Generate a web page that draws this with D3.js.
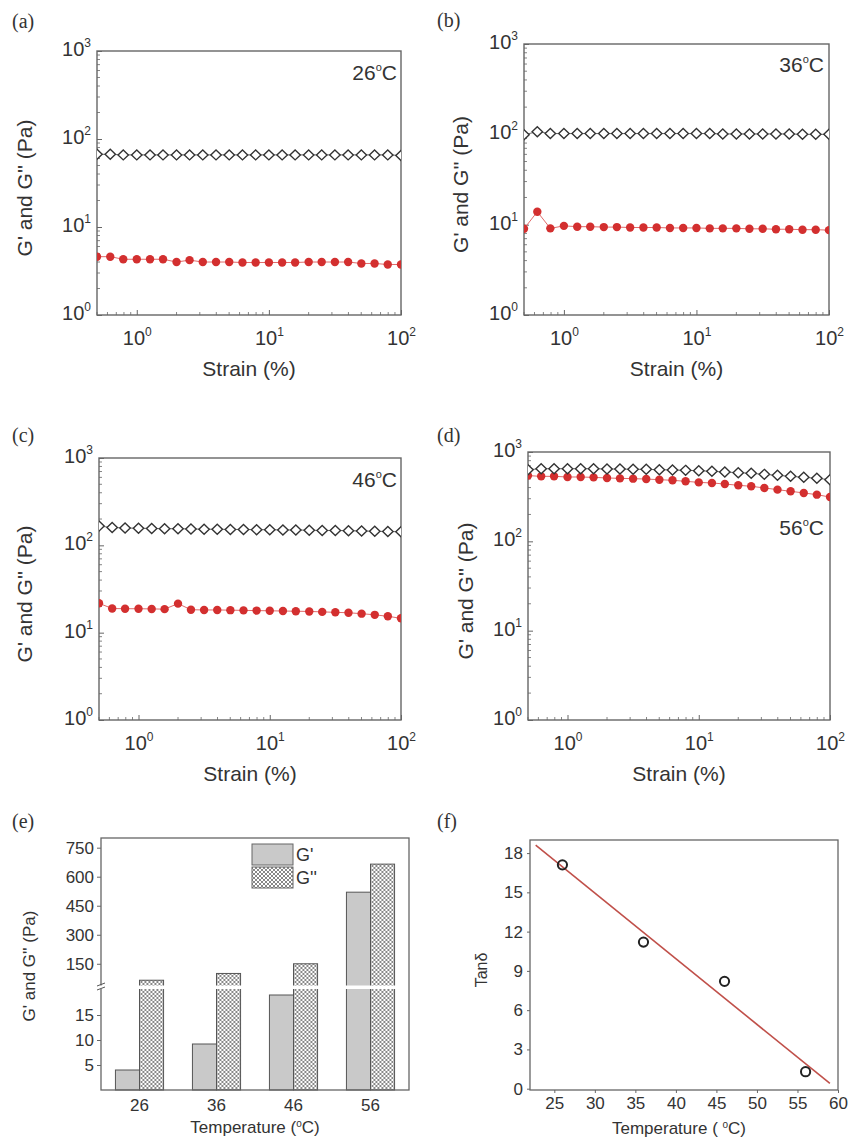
<!DOCTYPE html>
<html>
<head>
<meta charset="utf-8">
<script src="https://cdn.jsdelivr.net/npm/d3@7"></script>
<style>
  body { margin: 0; background: #fff; }
  svg { display: block; }
  text { fill: #333; }
</style>
</head>
<body>
<svg id="chart" width="848" height="1142"></svg>
<script>
// strain sweep points (%)
const strain = [0.5, 0.63, 0.79, 1.0, 1.26, 1.58, 2.0, 2.51, 3.16, 3.98, 5.01, 6.31, 7.94, 10, 12.6, 15.8, 20, 25.1, 31.6, 39.8, 50.1, 63.1, 79.4, 100]

// G'' (open diamonds) and G' (red dots), Pa
const gDbl26 = [67, 67, 66, 66, 66, 66, 66, 66, 66, 66, 66, 66, 66, 66, 66, 66, 66, 66, 66, 66, 66, 66, 66, 65]
const gPrm26 = [4.6, 4.6, 4.3, 4.3, 4.3, 4.3, 4.0, 4.2, 4.0, 4.0, 4.0, 3.95, 3.95, 3.95, 3.95, 3.95, 4.0, 4.0, 4.0, 4.0, 3.85, 3.85, 3.75, 3.75]
const gDbl36 = [99, 107, 102, 102, 102, 102, 102, 102, 102, 102, 102, 102, 102, 102, 102, 101, 101, 101, 101, 101, 101, 100, 100, 100]
const gPrm36 = [9.0, 13.9, 9.1, 9.7, 9.5, 9.5, 9.4, 9.4, 9.3, 9.3, 9.3, 9.2, 9.2, 9.2, 9.1, 9.1, 9.1, 9.0, 9.0, 8.9, 8.9, 8.8, 8.8, 8.7]
const gDbl46 = [166, 160, 158, 157, 156, 155, 155, 154, 153, 153, 152, 152, 151, 151, 150, 150, 149, 148, 148, 147, 146, 145, 144, 143]
const gPrm46 = [21.7, 18.9, 18.8, 18.8, 18.7, 18.6, 21.5, 18.3, 18.2, 18.2, 18.1, 18.0, 17.9, 17.8, 17.7, 17.6, 17.5, 17.3, 17.1, 16.9, 16.5, 16.0, 15.4, 14.6]
const gDbl56 = [634, 650, 650, 650, 650, 650, 645, 645, 640, 640, 634, 629, 623, 618, 608, 597, 587, 577, 562, 548, 534, 521, 508, 490]
const gPrm56 = [544, 534, 534, 525, 525, 520, 512, 507, 503, 498, 490, 482, 470, 457, 450, 438, 424, 413, 396, 379, 363, 348, 333, 313]

const logTicks = [1, 10, 100, 1000]
const strainTicks = [1, 10, 100]

// panel (e)
const temps = ['26', '36', '46', '56']
const gPrmBar = [4, 9.2, 19, 520]
const gDblBar = [65, 100, 150, 665]
const lowTicks = [5, 10, 15]
const highTicks = [150, 300, 450, 600, 750]

// panel (f)
const tempC = [26, 36, 46, 56]
const tanDelta = [17.1, 11.2, 8.2, 1.3]
const fitT = [22.7, 59.0]
const fitTan = [18.6, 0.4]
const tanXTicks = [25, 30, 35, 40, 45, 50, 55, 60]
const tanYTicks = [0, 3, 6, 9, 12, 15, 18]

const svg = d3.select('#chart').attr('font-family', "'Liberation Sans', Arial, sans-serif")
const frameColor = '#666'

const defs = svg.append('defs')
const pat = defs.append('pattern').attr('id', 'hatch')
  .attr('width', 4).attr('height', 4).attr('patternUnits', 'userSpaceOnUse')
pat.append('rect').attr('width', 4).attr('height', 4).attr('fill', '#fff')
pat.append('path').attr('d', 'M0,0L4,4M4,0L0,4M-1,3L1,5M3,-1L5,1').attr('stroke', '#7a7a7a').attr('stroke-width', 0.9)

function panelLabel(txt, x, y) {
  svg.append('text').attr('x', x).attr('y', y)
    .attr('font-family', "'Liberation Serif', 'DejaVu Serif', serif")
    .attr('font-size', 20).text(txt)
}

function supLabel(sel, base, exp, baseSize, expSize) {
  sel.text('')
  sel.append('tspan').attr('font-size', baseSize).text(base)
  sel.append('tspan').attr('font-size', expSize).attr('dy', -baseSize * 0.45).text(exp)
}

function logPanel(p) {
  const x = d3.scaleLog().domain([0.5, 100]).range([p.left, p.right])
  const y = d3.scaleLog().domain([1, 1000]).range([p.bottom, p.top])
  const g = svg.append('g')
  const clipId = 'clip' + p.temp
  defs.append('clipPath').attr('id', clipId).append('rect')
    .attr('x', p.left).attr('y', p.top).attr('width', p.right - p.left).attr('height', p.bottom - p.top)

  // minor ticks, inward
  const minorX = x.ticks().filter(d => !strainTicks.includes(d))
  const minorY = y.ticks().filter(d => !logTicks.includes(d))
  g.selectAll('.mx').data(minorX).join('line')
    .attr('x1', d => x(d)).attr('x2', d => x(d))
    .attr('y1', p.bottom).attr('y2', p.bottom - 3)
    .attr('stroke', frameColor).attr('stroke-width', 0.8)
  g.selectAll('.my').data(minorY).join('line')
    .attr('x1', p.left).attr('x2', p.left + 3)
    .attr('y1', d => y(d)).attr('y2', d => y(d))
    .attr('stroke', frameColor).attr('stroke-width', 0.8)

  const ax = g.append('g').attr('transform', `translate(0,${p.bottom})`)
    .call(d3.axisBottom(x).tickValues(strainTicks).tickSize(-5).tickSizeOuter(0))
  ax.select('.domain').remove()
  ax.selectAll('line').attr('stroke', frameColor)
  ax.selectAll('text').attr('y', 30).attr('dy', null)
    .each(function (d) { supLabel(d3.select(this), '10', Math.round(Math.log10(d)), 20, 12) })

  const ay = g.append('g').attr('transform', `translate(${p.left},0)`)
    .call(d3.axisLeft(y).tickValues(logTicks).tickSize(-5).tickSizeOuter(0))
  ay.select('.domain').remove()
  ay.selectAll('line').attr('stroke', frameColor)
  ay.selectAll('text').attr('x', -6).attr('dy', '0.45em')
    .each(function (d) { supLabel(d3.select(this), '10', Math.round(Math.log10(d)), 20, 12) })

  g.append('rect').attr('x', p.left).attr('y', p.top)
    .attr('width', p.right - p.left).attr('height', p.bottom - p.top)
    .attr('fill', 'none').attr('stroke', frameColor).attr('stroke-width', 1.4)

  const pts = g.append('g').attr('clip-path', `url(#${clipId})`)
  const line = d3.line().x((d, i) => x(strain[i])).y(d => y(d))

  pts.append('path').attr('d', line(p.gp)).attr('fill', 'none')
    .attr('stroke', '#e06a6a').attr('stroke-width', 1)
  pts.selectAll('.red').data(p.gp).join('circle')
    .attr('cx', (d, i) => x(strain[i])).attr('cy', d => y(d)).attr('r', 4.2)
    .attr('fill', '#d32f2f')

  pts.append('path').attr('d', line(p.gd)).attr('fill', 'none')
    .attr('stroke', '#444').attr('stroke-width', 0.8)
  pts.selectAll('.dia').data(p.gd).join('path')
    .attr('transform', (d, i) => `translate(${x(strain[i])},${y(d)})`)
    .attr('d', 'M0,-5L5.2,0L0,5L-5.2,0Z')
    .attr('fill', '#fff').attr('stroke', '#333').attr('stroke-width', 1.4)

  // temperature tag
  const t = g.append('text').attr('x', p.tempX).attr('y', p.tempY)
    .attr('text-anchor', 'end').attr('font-size', 21)
  t.append('tspan').text(p.temp)
  t.append('tspan').attr('dy', -9).attr('font-size', 11).text('o')
  t.append('tspan').attr('dy', 9).text('C')

  g.append('text').attr('x', (p.left + p.right) / 2).attr('y', p.bottom + 61)
    .attr('text-anchor', 'middle').attr('font-size', 21).text('Strain (%)')
  g.append('text')
    .attr('transform', `translate(${p.titleX + 7},${(p.top + p.bottom) / 2 + 5}) rotate(-90)`)
    .attr('text-anchor', 'middle').attr('font-size', 21).text("G' and G'' (Pa)")

  panelLabel(p.label, p.labelX, p.labelY)
}

logPanel({ left: 97, right: 401, top: 51, bottom: 315, titleX: 25, label: '(a)', labelX: 12, labelY: 28,
  temp: '26', tempX: 397, tempY: 80, gd: gDbl26, gp: gPrm26 })
logPanel({ left: 524, right: 829, top: 44, bottom: 315, titleX: 461, label: '(b)', labelX: 437, labelY: 27,
  temp: '36', tempX: 824, tempY: 72, gd: gDbl36, gp: gPrm36 })
logPanel({ left: 99, right: 401, top: 458, bottom: 720, titleX: 25, label: '(c)', labelX: 12, labelY: 442,
  temp: '46', tempX: 397, tempY: 487, gd: gDbl46, gp: gPrm46 })
logPanel({ left: 528, right: 830, top: 452, bottom: 720, titleX: 466, label: '(d)', labelX: 437, labelY: 442,
  temp: '56', tempX: 824, tempY: 535, gd: gDbl56, gp: gPrm56 })

// ---- (e) bar chart with broken axis ----
{
  const L = 101, R = 409, T = 838, B = 1090
  const x0 = d3.scaleBand().domain(temps).range([L, R]).paddingInner(0.375).paddingOuter(0.1875)
  const x1 = d3.scaleBand().domain(['gp', 'gd']).range([0, x0.bandwidth()])
  const yLow = d3.scaleLinear().domain([0, 20]).range([B, 990])
  const yHigh = d3.scaleLinear().domain([30, 800]).range([987, T])
  const yv = v => v <= 20 ? yLow(v) : yHigh(v)
  const g = svg.append('g')

  const rows = temps.map((t, i) => ({ t, gp: gPrmBar[i], gd: gDblBar[i] }))
  const grp = g.selectAll('.grp').data(rows).join('g')
    .attr('transform', d => `translate(${x0(d.t)},0)`)
  grp.append('rect').attr('x', x1('gp')).attr('width', x1.bandwidth())
    .attr('y', d => yv(d.gp)).attr('height', d => B - yv(d.gp))
    .attr('fill', '#c9c9c9').attr('stroke', '#555').attr('stroke-width', 1)
  grp.append('rect').attr('x', x1('gd')).attr('width', x1.bandwidth())
    .attr('y', d => yv(d.gd)).attr('height', d => B - yv(d.gd))
    .attr('fill', 'url(#hatch)').attr('stroke', '#555').attr('stroke-width', 1)

  // break band
  g.append('rect').attr('x', L + 1).attr('y', 985.5).attr('width', R - L - 2).attr('height', 3.5).attr('fill', '#fff')

  g.append('rect').attr('x', L).attr('y', T).attr('width', R - L).attr('height', B - T)
    .attr('fill', 'none').attr('stroke', frameColor).attr('stroke-width', 1.3)

  const styleAxis = a => {
    a.select('.domain').remove()
    a.selectAll('line').attr('stroke', frameColor)
    a.selectAll('text').attr('font-size', 17).attr('font-family', null)
  }
  g.append('g').attr('transform', `translate(${L},0)`)
    .call(d3.axisLeft(yLow).tickValues(lowTicks).tickSize(4).tickPadding(3)).call(styleAxis)
  g.append('g').attr('transform', `translate(${L},0)`)
    .call(d3.axisLeft(yHigh).tickValues(highTicks).tickSize(4).tickPadding(3)).call(styleAxis)
  const ax = g.append('g').attr('transform', `translate(0,${B})`)
    .call(d3.axisBottom(x0).tickSize(0).tickPadding(5))
  styleAxis(ax)
  ax.selectAll('text').attr('dy', '0.95em')

  // axis break mark
  g.append('rect').attr('x', L - 4).attr('y', 985.5).attr('width', 8).attr('height', 3.5).attr('fill', '#fff')
  g.append('path').attr('d', `M${L - 4},986L${L + 4},983M${L - 4},990L${L + 4},987`)
    .attr('stroke', '#555').attr('stroke-width', 1).attr('fill', 'none')

  // legend
  const lg = g.append('g')
  const legItems = [{ k: 'gp', name: "G'", fill: '#c9c9c9' }, { k: 'gd', name: "G''", fill: 'url(#hatch)' }]
  lg.selectAll('rect').data(legItems).join('rect')
    .attr('x', 252).attr('y', (d, i) => 844 + i * 23).attr('width', 41).attr('height', 21)
    .attr('fill', d => d.fill).attr('stroke', '#666').attr('stroke-width', 1)
  lg.selectAll('text').data(legItems).join('text')
    .attr('x', 296).attr('y', (d, i) => 861 + i * 23).attr('font-size', 18).text(d => d.name)

  const tx = g.append('text').attr('x', (L + R) / 2).attr('y', 1133).attr('text-anchor', 'middle').attr('font-size', 17)
  tx.append('tspan').text('Temperature (')
  tx.append('tspan').attr('dy', -6).attr('font-size', 10).text('o')
  tx.append('tspan').attr('dy', 6).text('C)')
  g.append('text').attr('transform', `translate(35,${(T + B) / 2 + 2}) rotate(-90)`)
    .attr('text-anchor', 'middle').attr('font-size', 17).text("G' and G'' (Pa)")

  panelLabel('(e)', 12, 828)
}

// ---- (f) tan delta vs temperature ----
{
  const L = 530, R = 838, T = 840, B = 1090
  const x = d3.scaleLinear().domain([22, 60]).range([L, R])
  const y = d3.scaleLinear().domain([-0.1, 19]).range([B, T])
  const g = svg.append('g')
  const styleAxis = a => {
    a.select('.domain').remove()
    a.selectAll('line').attr('stroke', frameColor)
    a.selectAll('text').attr('font-size', 17).attr('font-family', null)
  }
  g.append('g').attr('transform', `translate(0,${B})`)
    .call(d3.axisBottom(x).tickValues(tanXTicks).tickSize(3).tickPadding(4)).call(styleAxis)
  g.append('g').attr('transform', `translate(${L},0)`)
    .call(d3.axisLeft(y).tickValues(tanYTicks).tickSize(3).tickPadding(4)).call(styleAxis)
  g.append('rect').attr('x', L).attr('y', T).attr('width', R - L).attr('height', B - T)
    .attr('fill', 'none').attr('stroke', frameColor).attr('stroke-width', 1.3)

  g.append('path').datum(fitT.map((t, i) => [t, fitTan[i]]))
    .attr('d', d3.line().x(d => x(d[0])).y(d => y(d[1])))
    .attr('fill', 'none').attr('stroke', '#c0504a').attr('stroke-width', 1.6)
  g.selectAll('.pt').data(tempC).join('circle')
    .attr('cx', d => x(d)).attr('cy', (d, i) => y(tanDelta[i])).attr('r', 4.6)
    .attr('fill', 'none').attr('stroke', '#222').attr('stroke-width', 2)

  const tx = g.append('text').attr('x', (L + R) / 2 - 5).attr('y', 1134).attr('text-anchor', 'middle').attr('font-size', 17)
  tx.append('tspan').text('Temperature ( ')
  tx.append('tspan').attr('dy', -6).attr('font-size', 10).text('o')
  tx.append('tspan').attr('dy', 6).text('C)')
  g.append('text').attr('transform', `translate(487,${(T + B) / 2 + 5}) rotate(-90)`)
    .attr('text-anchor', 'middle').attr('font-size', 16).text('Tanδ')

  panelLabel('(f)', 437, 828)
}
</script>
</body>
</html>
